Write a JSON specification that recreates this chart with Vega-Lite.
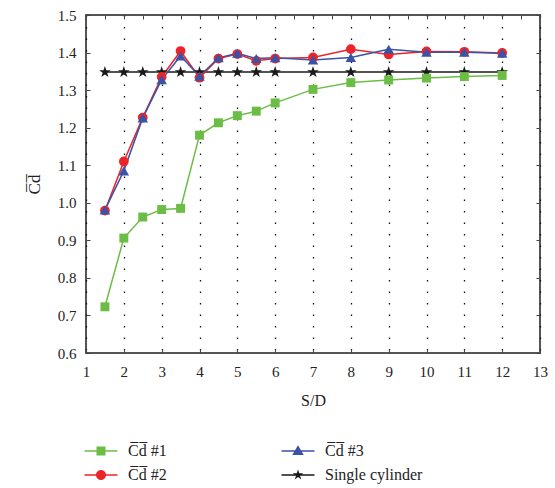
{
  "$schema": "https://vega.github.io/schema/vega-lite/v6.json",
  "width": 454,
  "height": 338,
  "autosize": {"type": "none"},
  "padding": {"left": 86, "top": 15, "right": 15, "bottom": 135},
  "background": "white",
  "config": {
    "view": {"stroke": "#555", "strokeWidth": 2},
    "font": "Liberation Serif",
    "axis": {"labelFont": "Liberation Serif", "titleFont": "Liberation Serif", "labelColor": "#222", "titleColor": "#222", "tickColor": "#444", "titleFontWeight": "normal"},
    "legend": {"labelFont": "Liberation Serif"}
  },
  "data": {"values": [
    {"sd": 1.5, "cd": 1.348, "series": "Single cylinder"},
    {"sd": 2, "cd": 1.348, "series": "Single cylinder"},
    {"sd": 2.5, "cd": 1.348, "series": "Single cylinder"},
    {"sd": 3, "cd": 1.348, "series": "Single cylinder"},
    {"sd": 3.5, "cd": 1.348, "series": "Single cylinder"},
    {"sd": 4, "cd": 1.348, "series": "Single cylinder"},
    {"sd": 4.5, "cd": 1.348, "series": "Single cylinder"},
    {"sd": 5, "cd": 1.348, "series": "Single cylinder"},
    {"sd": 5.5, "cd": 1.348, "series": "Single cylinder"},
    {"sd": 6, "cd": 1.348, "series": "Single cylinder"},
    {"sd": 7, "cd": 1.348, "series": "Single cylinder"},
    {"sd": 8, "cd": 1.348, "series": "Single cylinder"},
    {"sd": 9, "cd": 1.348, "series": "Single cylinder"},
    {"sd": 10, "cd": 1.348, "series": "Single cylinder"},
    {"sd": 11, "cd": 1.348, "series": "Single cylinder"},
    {"sd": 12, "cd": 1.348, "series": "Single cylinder"},
    {"sd": 1.5, "cd": 0.723, "series": "C\u0305d\u0305 #1"},
    {"sd": 2, "cd": 0.906, "series": "C\u0305d\u0305 #1"},
    {"sd": 2.5, "cd": 0.962, "series": "C\u0305d\u0305 #1"},
    {"sd": 3, "cd": 0.982, "series": "C\u0305d\u0305 #1"},
    {"sd": 3.5, "cd": 0.985, "series": "C\u0305d\u0305 #1"},
    {"sd": 4, "cd": 1.180, "series": "C\u0305d\u0305 #1"},
    {"sd": 4.5, "cd": 1.213, "series": "C\u0305d\u0305 #1"},
    {"sd": 5, "cd": 1.232, "series": "C\u0305d\u0305 #1"},
    {"sd": 5.5, "cd": 1.244, "series": "C\u0305d\u0305 #1"},
    {"sd": 6, "cd": 1.266, "series": "C\u0305d\u0305 #1"},
    {"sd": 7, "cd": 1.302, "series": "C\u0305d\u0305 #1"},
    {"sd": 8, "cd": 1.320, "series": "C\u0305d\u0305 #1"},
    {"sd": 9, "cd": 1.327, "series": "C\u0305d\u0305 #1"},
    {"sd": 10, "cd": 1.332, "series": "C\u0305d\u0305 #1"},
    {"sd": 11, "cd": 1.336, "series": "C\u0305d\u0305 #1"},
    {"sd": 12, "cd": 1.339, "series": "C\u0305d\u0305 #1"},
    {"sd": 1.5, "cd": 0.979, "series": "C\u0305d\u0305 #2"},
    {"sd": 2, "cd": 1.110, "series": "C\u0305d\u0305 #2"},
    {"sd": 2.5, "cd": 1.227, "series": "C\u0305d\u0305 #2"},
    {"sd": 3, "cd": 1.335, "series": "C\u0305d\u0305 #2"},
    {"sd": 3.5, "cd": 1.404, "series": "C\u0305d\u0305 #2"},
    {"sd": 4, "cd": 1.333, "series": "C\u0305d\u0305 #2"},
    {"sd": 4.5, "cd": 1.384, "series": "C\u0305d\u0305 #2"},
    {"sd": 5, "cd": 1.396, "series": "C\u0305d\u0305 #2"},
    {"sd": 5.5, "cd": 1.378, "series": "C\u0305d\u0305 #2"},
    {"sd": 6, "cd": 1.384, "series": "C\u0305d\u0305 #2"},
    {"sd": 7, "cd": 1.387, "series": "C\u0305d\u0305 #2"},
    {"sd": 8, "cd": 1.409, "series": "C\u0305d\u0305 #2"},
    {"sd": 9, "cd": 1.395, "series": "C\u0305d\u0305 #2"},
    {"sd": 10, "cd": 1.403, "series": "C\u0305d\u0305 #2"},
    {"sd": 11, "cd": 1.402, "series": "C\u0305d\u0305 #2"},
    {"sd": 12, "cd": 1.399, "series": "C\u0305d\u0305 #2"},
    {"sd": 1.5, "cd": 0.981, "series": "C\u0305d\u0305 #3"},
    {"sd": 2, "cd": 1.085, "series": "C\u0305d\u0305 #3"},
    {"sd": 2.5, "cd": 1.226, "series": "C\u0305d\u0305 #3"},
    {"sd": 3, "cd": 1.328, "series": "C\u0305d\u0305 #3"},
    {"sd": 3.5, "cd": 1.391, "series": "C\u0305d\u0305 #3"},
    {"sd": 4, "cd": 1.337, "series": "C\u0305d\u0305 #3"},
    {"sd": 4.5, "cd": 1.386, "series": "C\u0305d\u0305 #3"},
    {"sd": 5, "cd": 1.398, "series": "C\u0305d\u0305 #3"},
    {"sd": 5.5, "cd": 1.384, "series": "C\u0305d\u0305 #3"},
    {"sd": 6, "cd": 1.386, "series": "C\u0305d\u0305 #3"},
    {"sd": 7, "cd": 1.380, "series": "C\u0305d\u0305 #3"},
    {"sd": 8, "cd": 1.387, "series": "C\u0305d\u0305 #3"},
    {"sd": 9, "cd": 1.409, "series": "C\u0305d\u0305 #3"},
    {"sd": 10, "cd": 1.401, "series": "C\u0305d\u0305 #3"},
    {"sd": 11, "cd": 1.401, "series": "C\u0305d\u0305 #3"},
    {"sd": 12, "cd": 1.398, "series": "C\u0305d\u0305 #3"}
  ]},
  "resolve": {"axis": {"x": "independent", "y": "independent"}},
  "layer": [
    {
      "mark": {"type": "line", "strokeWidth": 1.5},
      "encoding": {
        "x": {"field": "sd", "type": "quantitative", "scale": {"domain": [1, 13], "nice": false, "zero": false},
          "axis": {"orient": "bottom", "values": [1,1.5,2,2.5,3,3.5,4,4.5,5,5.5,6,6.5,7,7.5,8,8.5,9,9.5,10,10.5,11,11.5,12,12.5,13],
            "format": "d", "labelExpr": "datum.value % 1 === 0 ? datum.label : ''",
            "domain": false, "tickSize": -4, "labelPadding": 15, "labelFontSize": 15, "labelFlush": false,
            "grid": true, "gridDash": [1.5, 10], "gridColor": "#111", "gridWidth": 1.3,
            "encode": {"grid": {"update": {"strokeOpacity": {"signal": "datum.value % 1 === 0 && datum.value > 1 && datum.value < 13 ? 1 : 0"}}}},
            "title": "S/D", "titleFontSize": 16, "titlePadding": 13}},
        "y": {"field": "cd", "type": "quantitative", "scale": {"domain": [0.6, 1.5], "nice": false, "zero": false},
          "axis": {"orient": "left", "values": [0.6,0.7,0.8,0.9,1.0,1.1,1.2,1.3,1.4,1.5], "format": ".1f",
            "domain": false, "tickSize": -4, "labelPadding": 14, "labelFontSize": 15, "labelFlush": false, "grid": false,
            "title": "C\u0305d\u0305", "titleFontSize": 17, "titlePadding": 14}},
        "color": {"field": "series", "type": "nominal",
          "scale": {"domain": ["C\u0305d\u0305 #1", "C\u0305d\u0305 #3", "C\u0305d\u0305 #2", "Single cylinder"], "range": ["#6cbd45", "#3a53a4", "#ec2328", "#1a1a1a"]},
          "legend": {"title": null, "orient": "none", "legendX": 7, "legendY": 428, "columns": 2, "direction": "horizontal",
            "columnPadding": 114, "rowPadding": 8, "symbolSize": 100, "labelOffset": 19, "labelFont": "Liberation Serif", "labelFontSize": 16, "labelColor": "#222",
            "encode": {"symbols": {"update": {
              "shape": {"signal": "datum.value === 'C\u0305d\u0305 #1' ? 'M-3.3,-0.14H3.3V0.14H-3.3ZM-0.9,-0.9H0.9V0.9H-0.9Z' : datum.value === 'C\u0305d\u0305 #3' ? 'M-3.3,-0.14H3.3V0.14H-3.3ZM0,-1.15L1.15,0.8H-1.15Z' : datum.value === 'C\u0305d\u0305 #2' ? 'M-3.3,-0.14H3.3V0.14H-3.3ZM1,0A1,1,0,1,1,-1,0A1,1,0,1,1,1,0Z' : 'M-3.3,-0.14H3.3V0.14H-3.3ZM0,-1.1L0.25,-0.34L1.05,-0.34L0.4,0.13L0.65,0.89L0,0.42L-0.65,0.89L-0.4,0.13L-1.05,-0.34L-0.25,-0.34Z'"},
              "fill": {"scale": "color", "field": "value"},
              "fillOpacity": {"value": 1},
              "strokeOpacity": {"value": 0},
              "opacity": {"value": 1},
              "size": {"value": 100}
            }}}}}
      }
    },
    {
      "transform": [{"filter": {"field": "series", "equal": "Single cylinder"}}],
      "mark": {"type": "point", "filled": true, "opacity": 1, "color": "#1a1a1a", "size": 150,
        "shape": "M0,-1L0.225,-0.309L0.951,-0.309L0.363,0.118L0.588,0.809L0,0.382L-0.588,0.809L-0.363,0.118L-0.951,-0.309L-0.225,-0.309Z"},
      "encoding": {
        "x": {"field": "sd", "type": "quantitative",
          "axis": {"orient": "top", "values": [1,1.5,2,2.5,3,3.5,4,4.5,5,5.5,6,6.5,7,7.5,8,8.5,9,9.5,10,10.5,11,11.5,12,12.5,13],
            "labels": false, "domain": false, "tickSize": -4, "grid": false, "title": null}},
        "y": {"field": "cd", "type": "quantitative",
          "axis": {"orient": "right", "values": [0.6,0.7,0.8,0.9,1.0,1.1,1.2,1.3,1.4,1.5],
            "labels": false, "domain": false, "tickSize": -4, "grid": false, "title": null}}
      }
    },
    {
      "transform": [{"filter": {"field": "series", "equal": "C\u0305d\u0305 #1"}}],
      "mark": {"type": "point", "filled": true, "opacity": 1, "color": "#6cbd45", "size": 80, "shape": "square"},
      "encoding": {
        "x": {"field": "sd", "type": "quantitative", "axis": null},
        "y": {"field": "cd", "type": "quantitative", "axis": null}
      }
    },
    {
      "transform": [{"filter": {"field": "series", "equal": "C\u0305d\u0305 #2"}}],
      "mark": {"type": "point", "filled": true, "opacity": 1, "color": "#ec2328", "size": 95, "shape": "circle"},
      "encoding": {
        "x": {"field": "sd", "type": "quantitative", "axis": null},
        "y": {"field": "cd", "type": "quantitative", "axis": null}
      }
    },
    {
      "transform": [{"filter": {"field": "series", "equal": "C\u0305d\u0305 #3"}}],
      "mark": {"type": "point", "filled": true, "opacity": 1, "color": "#3a53a4", "size": 110, "shape": "triangle-up"},
      "encoding": {
        "x": {"field": "sd", "type": "quantitative", "axis": null},
        "y": {"field": "cd", "type": "quantitative", "axis": null}
      }
    }
  ]
}
